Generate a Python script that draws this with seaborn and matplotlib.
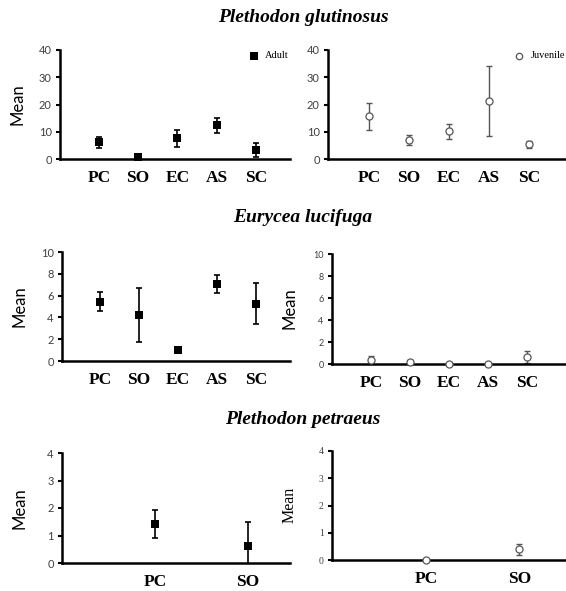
import numpy as np
import pandas as pd
import matplotlib
matplotlib.use("Agg")
import matplotlib.pyplot as plt
import seaborn as sns

# Site categories
sites5 = ["PC", "SO", "EC", "AS", "SC"]
sites2 = ["PC", "SO"]

# Plethodon glutinosus
glut_adult_mean = [6.1, 0.7, 7.6, 12.4, 3.2]
glut_adult_se = [1.9, 0.0, 3.1, 2.7, 2.5]
glut_juv_mean = [15.6, 7.1, 10.1, 21.3, 5.4]
glut_juv_se = [4.8, 1.8, 2.7, 12.8, 1.3]

# Eurycea lucifuga
eury_adult_mean = [5.45, 4.2, 1.0, 7.05, 5.25]
eury_adult_se = [0.9, 2.5, 0.0, 0.8, 1.9]
eury_juv_mean = [0.4, 0.2, 0.0, 0.0, 0.64]
eury_juv_se = [0.33, 0.16, 0.0, 0.0, 0.56]

# Plethodon petraeus
petr_adult_mean = [1.42, 0.62]
petr_adult_se = [0.5, 0.88]
petr_juv_mean = [0.0, 0.4]
petr_juv_se = [0.0, 0.2]

sns.set_theme(style="white")
serif = ["Liberation Serif", "DejaVu Serif"]
sans = ["Lato", "DejaVu Sans"]

W, H = 566, 591
fig = plt.figure(figsize=(W / 100, H / 100), dpi=100)


def box(x0, x1, top, bottom):
    return [x0 / W, 1 - bottom / H, (x1 - x0) / W, (bottom - top) / H]


def panel(rect, cats, mean, se, ymax, step, xlim, juvenile, tickfont, ticksize, label=None):
    ax = fig.add_axes(rect)
    df = pd.DataFrame({"site": cats, "mean": mean, "se": se})
    pos = np.arange(len(cats))
    if juvenile:
        ax.errorbar(pos, df["mean"], yerr=df["se"], fmt="none", ecolor="#555555",
                    elinewidth=1.0, capsize=2.5, capthick=1.0, zorder=2)
        sns.scatterplot(data=df, x="site", y="mean", ax=ax, marker="o", s=26,
                        facecolor="white", edgecolor="#555555", linewidth=0.9,
                        zorder=3, clip_on=False, label="Juvenile" if label else None)
    else:
        ax.errorbar(pos, df["mean"], yerr=df["se"], fmt="none", ecolor="black",
                    elinewidth=1.2, capsize=2.5, capthick=1.2, zorder=2)
        sns.scatterplot(data=df, x="site", y="mean", ax=ax, marker="s", s=34,
                        color="black", edgecolor="black", linewidth=0,
                        zorder=3, clip_on=False, label="Adult" if label else None)
    ax.set_xlim(*xlim)
    ax.set_ylim(0, ymax)
    ax.set_yticks(np.arange(0, ymax + step / 2, step))
    ax.set_xlabel("")
    ax.set_ylabel("")
    for s in ["top", "right"]:
        ax.spines[s].set_visible(False)
    for s in ["left", "bottom"]:
        ax.spines[s].set_linewidth(1.8)
        ax.spines[s].set_color("black")
    ax.tick_params(axis="y", left=True, length=3, width=1.5, color="black",
                   labelsize=ticksize, labelcolor="#404040", pad=3)
    ax.tick_params(axis="x", bottom=False, pad=2)
    for t in ax.get_yticklabels():
        t.set_family(tickfont)
    for t in ax.get_xticklabels():
        t.set_family(serif)
        t.set_fontweight("bold")
        t.set_fontsize(12.5)
        t.set_color("black")
    if label:
        leg = ax.legend(loc="upper right", frameon=False, prop={"family": serif, "size": 7.5},
                        handletextpad=0.1, borderaxespad=0.0, borderpad=0.1,
                        bbox_to_anchor=(1.0, 1.0), markerscale=0.9)
        for t in leg.get_texts():
            t.set_color("black")
    else:
        leg = ax.get_legend()
        if leg:
            leg.remove()
    return ax


# Row 1
panel(box(60, 290, 50, 159), sites5, glut_adult_mean, glut_adult_se, 40, 10,
      (-0.99, 4.87), False, sans, 8, label=True)
panel(box(328, 566, 50, 159), sites5, glut_juv_mean, glut_juv_se, 40, 10,
      (-1.03, 4.93), True, sans, 8, label=True)

# Row 2
panel(box(62, 290, 252, 361), sites5, eury_adult_mean, eury_adult_se, 10, 2,
      (-0.97, 4.87), False, sans, 8)
panel(box(332, 566, 254, 364), sites5, eury_juv_mean, eury_juv_se, 10, 2,
      (-1.0, 5.0), True, sans, 6.5)

# Row 3
panel(box(62, 290, 453, 563), sites2, petr_adult_mean, petr_adult_se, 4, 1,
      (-1.0, 1.45), False, sans, 8)
panel(box(332, 566, 451, 560), sites2, petr_juv_mean, petr_juv_se, 4, 1,
      (-1.01, 1.5), True, serif, 7)

# Titles
for ytitle, name in [(18, "Plethodon glutinosus"), (218, "Eurycea lucifuga"),
                     (419, "Plethodon petraeus")]:
    fig.text(303 / W, 1 - ytitle / H, name, ha="center", va="center", family=serif,
             style="italic", fontweight="bold", fontsize=14, color="black")

# Y-axis labels
for xl, yl, fam in [(18, 104, sans), (20, 306, sans), (290, 308, sans),
                    (20, 508, sans), (290, 505, serif)]:
    fig.text(xl / W, 1 - yl / H, "Mean", rotation=90, ha="center", va="center",
             family=fam, fontsize=12 if fam is sans else 11.5, color="black")

fig.savefig("out.png", dpi=100)
